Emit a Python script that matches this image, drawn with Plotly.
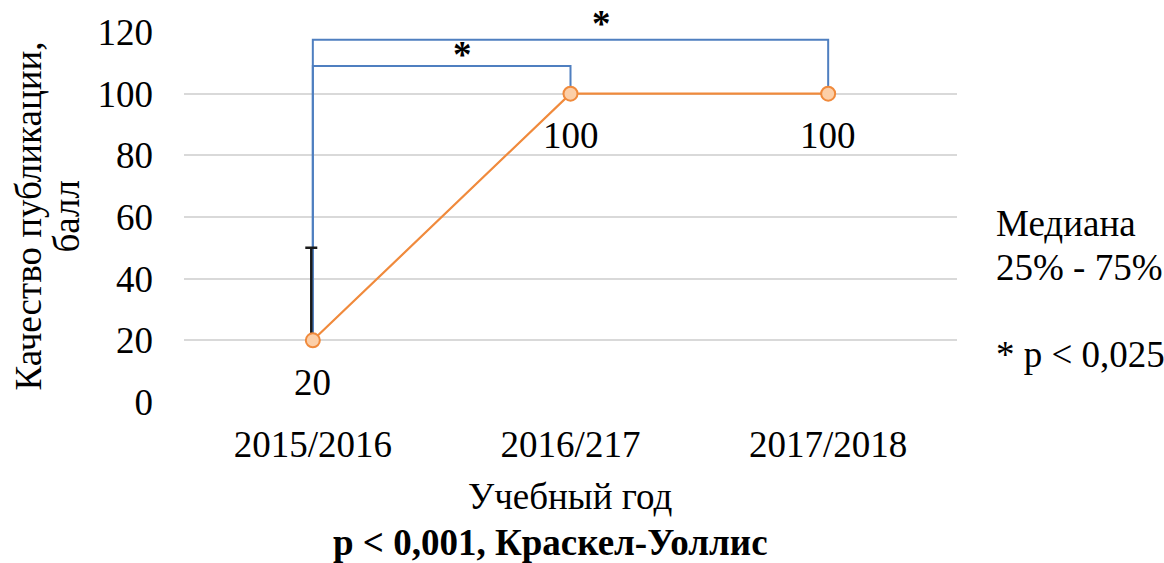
import plotly.graph_objects as go

categories = ["2015/2016", "2016/217", "2017/2018"]
median = [20, 100, 100]
q1 = [20, 100, 100]
q3 = [50, 100, 100]
# significance brackets: (from index, to index, height)
brackets = [(0, 1, 109), (0, 2, 117.5)]
star_x = [0.58, 1.12]
y_ticks = [0, 20, 40, 60, 80, 100, 120]

FONT = "Liberation Serif, Times New Roman, serif"
FS = 37
ORANGE = "#F08A3C"
BLUE = "#4F7FC0"
STAR_SHIFT = [11, 16]

OFF = 0
L, T, R, B = 184, 29, 207, 161
W, H = 1164, 563
PW = W - L - R
PH = H - T - B

xi = list(range(len(categories)))

fig = go.Figure()

for (a, b, h) in brackets:
    fig.add_trace(go.Scatter(
        x=[xi[a], xi[a], xi[b], xi[b]],
        y=[median[a], h, h, median[b]],
        mode="lines", line=dict(color=BLUE, width=2),
        hoverinfo="skip", showlegend=False, cliponaxis=False))

# interquartile range (error bars)
fig.add_trace(go.Scatter(
    x=[v - 0.006 for v in xi], y=median, mode="markers",
    marker=dict(size=1, color="rgba(0,0,0,0)"),
    error_y=dict(type="data", symmetric=False,
                 array=[q3[i] - median[i] for i in range(3)],
                 arrayminus=[median[i] - q1[i] for i in range(3)],
                 color="#1a1a1a", thickness=2.5, width=6),
    showlegend=False, hoverinfo="skip"))

fig.add_trace(go.Scatter(
    x=xi, y=median, mode="lines+markers",
    line=dict(color=ORANGE, width=2.2),
    marker=dict(size=14, color="#FCCFA8", line=dict(color=ORANGE, width=2)),
    showlegend=False, cliponaxis=False))

for i, v in enumerate(median):
    fig.add_annotation(x=xi[i], y=v, text=str(v), showarrow=False,
                       yshift=-42, font=dict(family=FONT, size=FS, color="black"))

for (a, b, h), sx, sh in zip(brackets, star_x, STAR_SHIFT):
    fig.add_annotation(x=sx, y=h, text="<b>*</b>", showarrow=False,
                       yanchor="middle", yshift=sh,
                       font=dict(family=FONT, size=FS, color="black"))

def px_x(px):
    return (px - OFF - L) / PW

def px_y(py):
    return (H - B - (py - OFF)) / PH

for txt, cx in [("Качество публикации,", 29), ("балл", 67)]:
    fig.add_annotation(xref="paper", yref="paper", x=px_x(cx), y=px_y(215),
                       xanchor="center", yanchor="middle",
                       text=txt, textangle=-90, showarrow=False,
                       font=dict(family=FONT, size=FS, color="black"))

for txt, yy in [("Медиана", 222), ("25% - 75%", 266), ("* p < 0,025", 354)]:
    fig.add_annotation(xref="paper", yref="paper", x=px_x(994), xanchor="left",
                       y=px_y(yy), yanchor="middle", text=txt,
                       showarrow=False, font=dict(family=FONT, size=FS, color="black"))

fig.add_annotation(xref="paper", yref="paper", x=px_x(570), y=px_y(497),
                   yanchor="middle", text="Учебный год", showarrow=False,
                   font=dict(family=FONT, size=FS, color="black"))
fig.add_annotation(xref="paper", yref="paper", x=px_x(550), y=px_y(544),
                   yanchor="middle", text="<b>p < 0,001, Краскел-Уоллис</b>", showarrow=False,
                   font=dict(family=FONT, size=FS, color="black"))

fig.update_layout(
    width=W, height=H,
    margin=dict(l=L, r=R, t=T, b=B),
    plot_bgcolor="white", paper_bgcolor="white",
    font=dict(family=FONT, size=FS, color="black"),
    xaxis=dict(tickmode="array", tickvals=xi, ticktext=categories,
               range=[-0.5, 2.5], showgrid=False, zeroline=False,
               showline=False, ticks="", ticklabelstandoff=17),
    yaxis=dict(range=[0, 120], tickvals=y_ticks, showgrid=True,
               gridcolor="#D9D9D9", gridwidth=2, zeroline=False,
               showline=False, ticks="", ticklabelstandoff=30),
)

fig.write_html(
    "out.html",
    config={"displayModeBar": False},
    post_script=("document.documentElement.style.overflow='hidden';"
                 "document.body.style.overflow='hidden';"
                 "document.body.style.margin='0';"),
)
